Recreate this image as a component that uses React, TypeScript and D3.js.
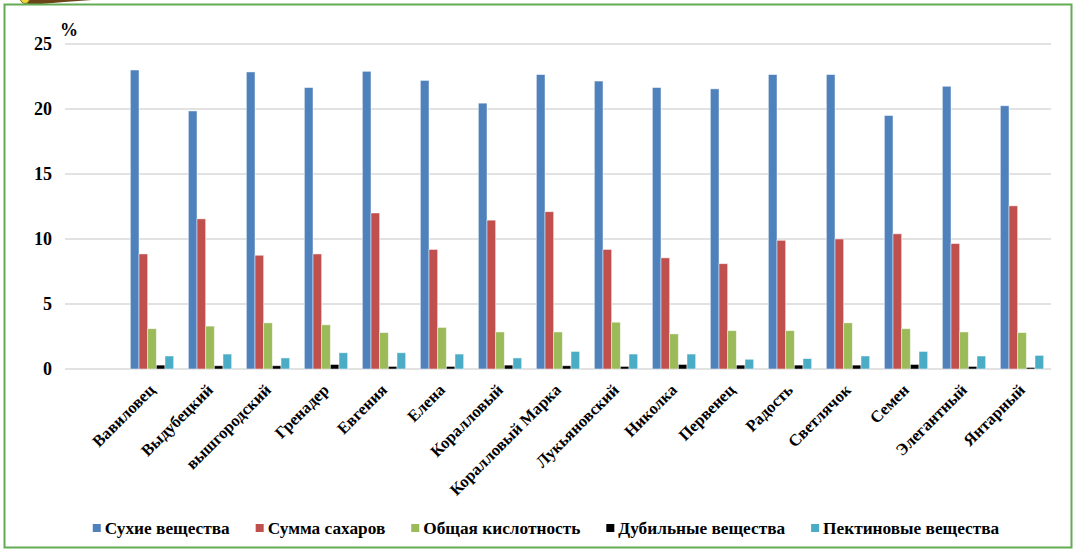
import React, { useEffect, useRef } from "react";
import * as d3 from "d3";

// Cultivars (a blank leading slot keeps the first band empty, as in the source workbook)
const categories = [
  "Вавиловец", "Выдубецкий", "вышгородский", "Гренадер", "Евгения", "Елена",
  "Коралловый", "Коралловый Марка", "Лукьяновский", "Николка", "Первенец",
  "Радость", "Светлячок", "Семен", "Элегантный", "Янтарный",
];

const seriesNames = [
  "Сухие вещества", "Сумма сахаров", "Общая кислотность",
  "Дубильные вещества", "Пектиновые вещества",
];
const seriesColors = ["#4f81bd", "#c0504d", "#9bbb59", "#000000", "#4bacc6"];

// Values, %
const dryMatter = [23.0, 19.85, 22.85, 21.65, 22.9, 22.2, 20.45, 22.65, 22.15, 21.65, 21.55, 22.65, 22.65, 19.5, 21.75, 20.25];
const sugars = [8.85, 11.55, 8.75, 8.85, 12.0, 9.2, 11.45, 12.1, 9.2, 8.55, 8.1, 9.9, 10.0, 10.4, 9.65, 12.55];
const acidity = [3.1, 3.3, 3.55, 3.4, 2.8, 3.2, 2.85, 2.85, 3.6, 2.7, 2.95, 2.95, 3.55, 3.1, 2.85, 2.8];
const tannins = [0.3, 0.25, 0.25, 0.35, 0.2, 0.2, 0.3, 0.25, 0.2, 0.35, 0.3, 0.3, 0.3, 0.35, 0.2, 0.12];
const pectins = [1.0, 1.15, 0.85, 1.25, 1.25, 1.15, 0.85, 1.35, 1.15, 1.15, 0.75, 0.8, 1.0, 1.35, 1.0, 1.05];

const yTicks = [0, 5, 10, 15, 20, 25];
const unitLabel = "%";

const W = 1076;
const H = 549;
const FONT = '"Liberation Serif", "DejaVu Serif", "Times New Roman", serif';

export default function App() {
  const ref = useRef<SVGSVGElement | null>(null);

  useEffect(() => {
    const svg = d3.select(ref.current);
    svg.selectAll("*").remove();

    const series = [dryMatter, sugars, acidity, tannins, pectins];

    const plot = { left: 65, right: 1051, top: 44, bottom: 369 };

    const x = d3
      .scaleBand<string>()
      .domain(["", ...categories])
      .range([plot.left, plot.right])
      .paddingInner(0.253)
      .paddingOuter(0.1265);

    const xs = d3
      .scaleBand<string>()
      .domain(seriesNames)
      .range([0, x.bandwidth()])
      .padding(0);

    const y = d3.scaleLinear().domain([0, 25]).range([plot.bottom, plot.top]);

    svg.append("rect").attr("width", W).attr("height", H).attr("fill", "#fff");

    // decorative corner ornament
    svg
      .append("path")
      .attr("d", "M20,0 L92,0 Q60,2 30,5 Z")
      .attr("fill", "#6b4418");
    svg
      .append("circle")
      .attr("cx", 25)
      .attr("cy", -1)
      .attr("r", 4.5)
      .attr("fill", "#f0d43a")
      .attr("stroke", "#6f6a18")
      .attr("stroke-width", 1);

    // frame
    svg
      .append("rect")
      .attr("x", 4.5)
      .attr("y", 4.5)
      .attr("width", 1067)
      .attr("height", 543)
      .attr("fill", "none")
      .attr("stroke", "#62ab52")
      .attr("stroke-width", 2);

    // gridlines
    svg
      .append("g")
      .selectAll("line")
      .data(yTicks)
      .join("line")
      .attr("x1", plot.left)
      .attr("x2", plot.right)
      .attr("y1", (d) => y(d))
      .attr("y2", (d) => y(d))
      .attr("stroke", "#d9d9d9")
      .attr("stroke-width", 1.5);

    const textStyle = (sel: any, size: number) =>
      sel
        .style("font-family", FONT)
        .style("font-weight", "700")
        .style("font-size", `${size}px`)
        .attr("fill", "#000");

    // y tick labels
    svg
      .append("g")
      .selectAll("text")
      .data(yTicks)
      .join("text")
      .attr("x", 52)
      .attr("y", (d) => y(d))
      .attr("dy", "0.35em")
      .attr("text-anchor", "end")
      .call(textStyle, 18)
      .text((d) => String(d));

    svg
      .append("text")
      .attr("x", 60)
      .attr("y", 36)
      .call(textStyle, 18)
      .text(unitLabel);

    // bars
    const groups = svg
      .append("g")
      .selectAll("g")
      .data(categories)
      .join("g")
      .attr("transform", (c) => `translate(${x(c)},0)`);

    groups
      .selectAll("rect")
      .data((_c, i) => series.map((s, k) => ({ key: seriesNames[k], value: s[i], color: seriesColors[k] })))
      .join("rect")
      .attr("x", (d) => xs(d.key) as number)
      .attr("width", xs.bandwidth())
      .attr("y", (d) => y(d.value))
      .attr("height", (d) => y(0) - y(d.value))
      .attr("fill", (d) => d.color)
      .attr("stroke", "#ffffff")
      .attr("stroke-opacity", 0.6)
      .attr("stroke-width", 0.8);

    // category labels
    svg
      .append("g")
      .selectAll("text")
      .data(categories)
      .join("text")
      .attr("transform", (c) => `translate(${(x(c) as number) + x.bandwidth() / 2 + 4},391) rotate(-45)`)
      .attr("text-anchor", "end")
      .call(textStyle, 16.5)
      .text((c) => c);

    // legend
    const legend = svg.append("g");
    const items = legend
      .selectAll("g")
      .data(seriesNames)
      .join("g");
    items
      .append("rect")
      .attr("x", 0)
      .attr("y", 524)
      .attr("width", 8)
      .attr("height", 8)
      .attr("fill", (_d, i) => seriesColors[i]);
    items
      .append("text")
      .attr("x", 12)
      .attr("y", 534)
      .call(textStyle, 17.3)
      .text((d) => d);

    const widths: number[] = [];
    items.each(function () {
      const t = d3.select(this).select("text").node() as SVGTextElement;
      widths.push(12 + t.getComputedTextLength());
    });
    const gap = 26;
    const total = d3.sum(widths) + gap * (widths.length - 1);
    let cursor = 546 - total / 2;
    items.attr("transform", (_d, i) => {
      const tx = cursor;
      cursor += widths[i] + gap;
      return `translate(${tx},0)`;
    });
  }, []);

  return (
    <svg
      ref={ref}
      width={W}
      height={H}
      style={{ position: "absolute", left: 0, top: 0, display: "block" }}
    />
  );
}
